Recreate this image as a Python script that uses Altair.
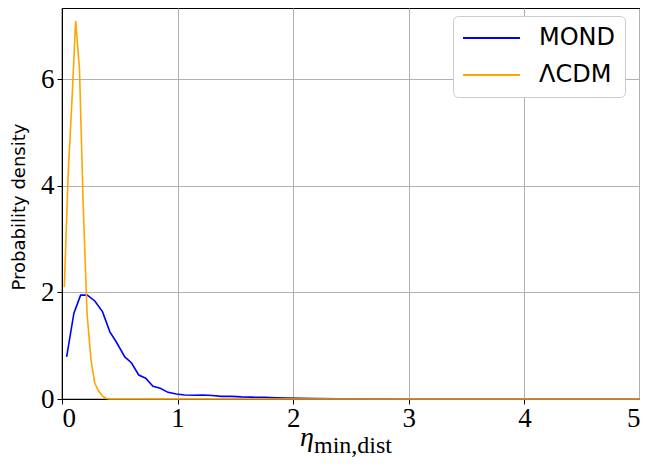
import altair as alt
import pandas as pd

# MOND distribution (bin centres, probability density)
mond_x = [0.04, 0.103, 0.161, 0.218, 0.284, 0.35, 0.414, 0.47, 0.543, 0.6, 0.664, 0.724,
          0.787, 0.85, 0.917, 0.99, 1.06, 1.147, 1.216, 1.3, 1.38, 1.47, 1.55, 1.64, 1.75,
          1.85, 1.95, 2.05, 2.2, 2.4, 2.7, 3.0, 3.5, 4.0, 4.5, 5.0]
mond_y = [0.79, 1.61, 1.95, 1.95, 1.84, 1.64, 1.26, 1.07, 0.79, 0.68, 0.45, 0.39,
          0.24, 0.2, 0.125, 0.094, 0.075, 0.07, 0.075, 0.065, 0.05, 0.05, 0.04, 0.035, 0.03,
          0.022, 0.018, 0.012, 0.008, 0.004, 0.002, 0.001, 0.0, 0.0, 0.0, 0.0]

# LambdaCDM distribution
lcdm_x = [0.02, 0.053, 0.086, 0.118, 0.151, 0.184, 0.217, 0.25, 0.283, 0.316, 0.349,
          0.382, 0.415, 1.0, 2.0, 3.0, 4.0, 5.0]
lcdm_y = [2.1, 4.2, 5.6, 7.1, 6.2, 3.6, 1.6, 0.75, 0.3, 0.15, 0.06,
          0.01, 0.0, 0.0, 0.0, 0.0, 0.0, 0.0]

series = ["MOND", "ΛCDM"]
colors = ["#0000ff", "#ffa500"]
x_ticks = [0, 1, 2, 3, 4, 5]
y_ticks = [0, 2, 4, 6]

df_m = pd.DataFrame({"x": mond_x, "y": mond_y, "s": series[0]})
df_l = pd.DataFrame({"x": lcdm_x, "y": lcdm_y, "s": series[1]})

W, H = 578, 391

xs = alt.Scale(domain=[0, 5], nice=False, zero=False)
ys = alt.Scale(domain=[0, 7.34], nice=False)
color = alt.Color(
    "s:N",
    scale=alt.Scale(domain=series, range=colors),
    legend=alt.Legend(
        title=None, orient="none", legendX=391, legendY=8,
        symbolType="stroke", symbolSize=3249, symbolStrokeWidth=2,
        labelFont="DejaVu Sans", labelFontSize=24, labelColor="black",
        strokeColor="#cccccc", fillColor="white", cornerRadius=5,
        padding=9, labelOffset=18, clipHeight=26, rowPadding=11,
    ),
)

xaxis = alt.Axis(values=x_ticks, title=None, format="d", labelFont="Liberation Serif",
                 labelFontSize=27, labelColor="black", labelPadding=1,
                 tickSize=5, tickColor="black", domainColor="black",
                 gridColor="#b0b0b0", gridWidth=1)
yaxis = alt.Axis(values=y_ticks, title=None, format="d", labelFont="Liberation Serif",
                 labelFontSize=27, labelColor="black", labelPadding=3,
                 tickSize=5, tickColor="black", domainColor="black",
                 gridColor="#b0b0b0", gridWidth=1)

base_m = alt.Chart(df_m).mark_line(strokeWidth=1.6).encode(
    x=alt.X("x:Q", scale=xs, axis=xaxis),
    y=alt.Y("y:Q", scale=ys, axis=yaxis),
    color=color,
)
base_l = alt.Chart(df_l).mark_line(strokeWidth=1.6).encode(
    x=alt.X("x:Q", scale=xs),
    y=alt.Y("y:Q", scale=ys),
    color=color,
)

ytitle = alt.Chart(pd.DataFrame({"t": ["Probability density"]})).mark_text(
    font="DejaVu Sans", fontSize=18, angle=270, align="center", baseline="middle", color="black"
).encode(text="t:N", x=alt.value(-42), y=alt.value(199))

eta = alt.Chart(pd.DataFrame({"t": ["η"]})).mark_text(
    font="Liberation Serif", fontSize=28, fontStyle="italic", align="right",
    baseline="alphabetic", color="black"
).encode(text="t:N", x=alt.value(252), y=alt.value(438))

sub = alt.Chart(pd.DataFrame({"t": ["min,dist"]})).mark_text(
    font="Liberation Serif", fontSize=24, align="left", baseline="alphabetic", color="black"
).encode(text="t:N", x=alt.value(252), y=alt.value(445))

chart = alt.layer(base_m, base_l, ytitle, eta, sub).properties(
    width=W, height=H,
    autosize=alt.AutoSizeParams(type="none"),
    padding={"left": 54, "top": 0, "right": 0, "bottom": 60},
).configure_view(stroke="black", strokeWidth=1.2).configure_axis(grid=True)

chart.save("out.html", embed_options={"renderer": "svg", "actions": False})
